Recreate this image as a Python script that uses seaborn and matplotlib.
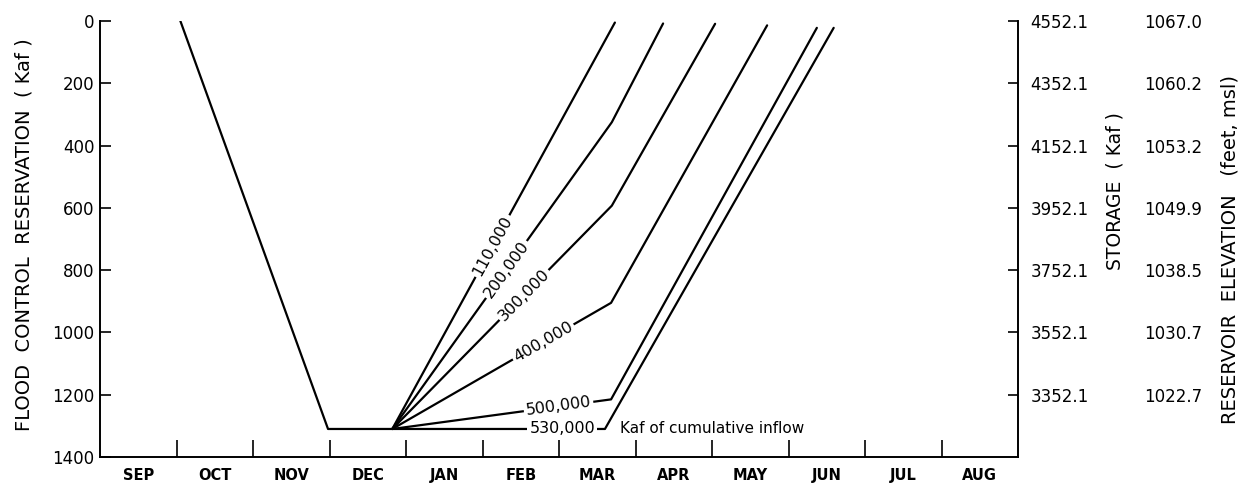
import numpy as np
import pandas as pd
import matplotlib
matplotlib.use("Agg")
import matplotlib.pyplot as plt
import seaborn as sns

# ---------------- data ----------------
months = ["SEP", "OCT", "NOV", "DEC", "JAN", "FEB", "MAR", "APR",
          "MAY", "JUN", "JUL", "AUG"]

# base flood-control diagram (month index from 1 Sep, reservation in Kaf)
base_x = [1.05, 2.98, 3.82]
base_kaf = [0, 1310, 1310]

inflow_labels = ["110,000", "200,000", "300,000", "400,000", "500,000", "530,000"]
curve_x = [
    [3.82, 6.73],
    [3.82, 6.69, 7.36],
    [3.82, 6.69, 8.04],
    [3.82, 6.68, 8.72],
    [3.82, 6.68, 9.37],
    [3.82, 6.60, 9.59],
]
curve_kaf = [
    [1310, 5],
    [1310, 325, 8],
    [1310, 593, 9],
    [1310, 905, 14],
    [1310, 1215, 22],
    [1310, 1310, 22],
]
label_frac = [0.45, 0.52, 0.60, 0.69, 0.76, 0.80]

res_ticks = [0, 200, 400, 600, 800, 1000, 1200, 1400]
right_ticks = [0, 200, 400, 600, 800, 1000, 1200]
storage_labels = ["4552.1", "4352.1", "4152.1", "3952.1", "3752.1", "3552.1", "3352.1"]
elev_labels = ["1067.0", "1060.2", "1053.2", "1049.9", "1038.5", "1030.7", "1022.7"]

# ---------------- long-form table ----------------
rows = []
for x, y in zip(base_x, base_kaf):
    rows.append(("base", x, y))
for name, xs, ys in zip(inflow_labels, curve_x, curve_kaf):
    for x, y in zip(xs, ys):
        rows.append((name, x, y))
df = pd.DataFrame(rows, columns=["curve", "month", "kaf"])

# ---------------- figure ----------------
sns.set_style("white")
plt.rcParams["font.family"] = ["DejaVu Sans"]
plt.rcParams["text.color"] = "black"
plt.rcParams["axes.labelcolor"] = "black"
plt.rcParams["xtick.color"] = "black"
plt.rcParams["ytick.color"] = "black"

fig = plt.figure(figsize=(12.57, 4.94), dpi=100)
ax = fig.add_axes([0.0796, 0.0749, 0.7303, 0.8826])

sns.lineplot(data=df, x="month", y="kaf", units="curve", estimator=None,
             sort=False, color="black", linewidth=1.6, ax=ax, legend=False)

ax.set_xlim(0, 12)
ax.set_ylim(1400, 0)
ax.set_xlabel("")
ax.set_ylabel("FLOOD  CONTROL  RESERVATION  ( Kaf )", fontsize=14)
ax.yaxis.set_label_coords(-0.072, 0.51)

for s in ["left", "bottom", "right"]:
    ax.spines[s].set_visible(True)
    ax.spines[s].set_color("black")
    ax.spines[s].set_linewidth(1.4)
ax.spines["top"].set_visible(False)

ax.set_yticks(res_ticks)
ax.set_yticklabels([str(v) for v in res_ticks])
ax.tick_params(axis="y", direction="in", length=8, width=1.2, pad=4,
               labelsize=12, left=True, right=False)

ax.set_xticks(np.arange(1, 12))
ax.set_xticklabels([])
ax.set_xticks(np.arange(12) + 0.5, minor=True)
ax.set_xticklabels(months, minor=True)
ax.tick_params(axis="x", which="major", direction="in", length=12, width=1.2,
               bottom=True)
ax.tick_params(axis="x", which="minor", length=0, pad=8, labelsize=10.5)
for lbl in ax.get_xticklabels(minor=True):
    lbl.set_fontweight("bold")

# curve labels, placed on the first segment of each curve
fig.canvas.draw()
for name, xs, ys, fr in zip(inflow_labels, curve_x, curve_kaf, label_frac):
    p0 = np.array([xs[0], ys[0]], dtype=float)
    p1 = np.array([xs[1], ys[1]], dtype=float)
    pos = p0 + fr * (p1 - p0)
    d0 = ax.transData.transform(p0)
    d1 = ax.transData.transform(p1)
    ang = np.degrees(np.arctan2(d1[1] - d0[1], d1[0] - d0[0]))
    ax.text(pos[0], pos[1], name, rotation=ang, rotation_mode="anchor",
            ha="center", va="center", fontsize=11.5, zorder=5,
            bbox=dict(facecolor="white", edgecolor="none", pad=1.5))

ax.text(6.80, 1310, "Kaf of cumulative inflow", ha="left", va="center",
        fontsize=11, zorder=5)

# right: storage
ax2 = ax.twinx()
ax2.set_ylim(1400, 0)
for s in ["left", "bottom", "top", "right"]:
    ax2.spines[s].set_visible(False)
ax2.set_yticks(right_ticks)
ax2.set_yticklabels(storage_labels)
ax2.tick_params(axis="y", direction="in", length=7, width=1.2, pad=9,
                labelsize=12, right=True, left=False)
ax2.set_ylabel("STORAGE  ( Kaf )", fontsize=13.5)
ax2.yaxis.set_label_coords(1.095, 0.61)

# right: reservoir elevation
ax3 = ax.twinx()
ax3.set_ylim(1400, 0)
for s in ["left", "bottom", "top", "right"]:
    ax3.spines[s].set_visible(False)
ax3.set_yticks(right_ticks)
ax3.set_yticklabels(elev_labels)
ax3.tick_params(axis="y", length=0, pad=91, labelsize=12, right=True, left=False)
ax3.set_ylabel("RESERVOIR  ELEVATION   (feet, msl)", fontsize=14)
ax3.yaxis.set_label_coords(1.22, 0.476)

fig.savefig("out.png", dpi=100, facecolor="white")
